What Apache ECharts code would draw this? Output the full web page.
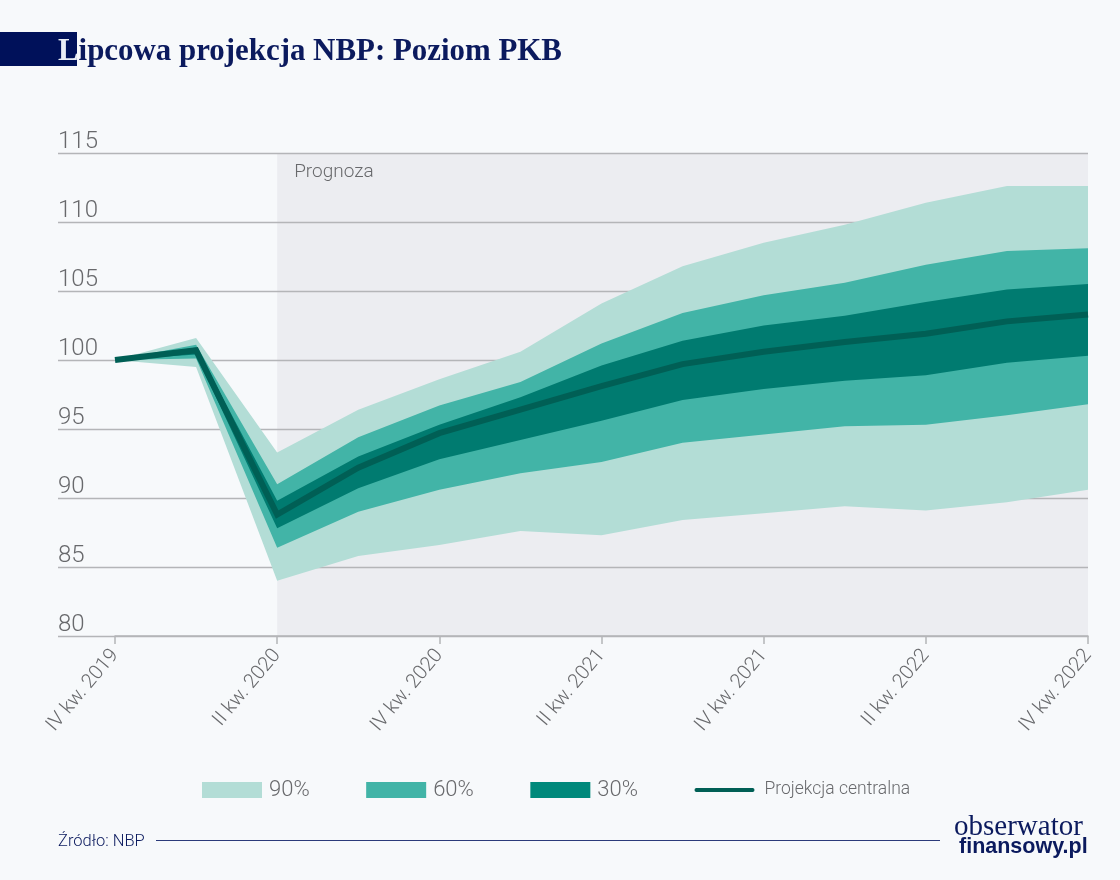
<!DOCTYPE html>
<html>
<head>
<meta charset="utf-8">
<title>Lipcowa projekcja NBP: Poziom PKB</title>
<script src="https://cdn.jsdelivr.net/npm/echarts@6/dist/echarts.min.js"></script>
<style>
html, body { margin: 0; padding: 0; background: #f7f9fb; }
#chart { width: 1120px; height: 880px; }
</style>
</head>
<body>
<div id="chart"></div>
<script>
var quarters = ['IV kw. 2019', 'I kw. 2020', 'II kw. 2020', 'III kw. 2020', 'IV kw. 2020', 'I kw. 2021', 'II kw. 2021',
    'III kw. 2021', 'IV kw. 2021', 'I kw. 2022', 'II kw. 2022', 'III kw. 2022', 'IV kw. 2022'];
var upper90 = [100, 101.6, 93.3, 96.4, 98.6, 100.6, 104.1, 106.8, 108.5, 109.8, 111.4, 112.6, 112.6];
var lower90 = [100, 99.5, 84.0, 85.8, 86.6, 87.6, 87.3, 88.4, 88.9, 89.4, 89.1, 89.7, 90.6];
var upper60 = [100, 101.1, 91.0, 94.4, 96.7, 98.4, 101.2, 103.4, 104.7, 105.6, 106.9, 107.9, 108.1];
var lower60 = [100, 100.1, 86.4, 89.0, 90.6, 91.8, 92.6, 94.0, 94.6, 95.2, 95.3, 96.0, 96.8];
var upper30 = [100, 100.9, 89.8, 93.0, 95.3, 97.3, 99.6, 101.4, 102.5, 103.2, 104.2, 105.1, 105.5];
var lower30 = [100, 100.4, 87.8, 90.7, 92.8, 94.2, 95.6, 97.1, 97.9, 98.5, 98.9, 99.8, 100.3];
var central = [100, 100.7, 88.8, 92.2, 94.7, 96.4, 98.1, 99.7, 100.6, 101.3, 101.9, 102.8, 103.3];

var font = 'Roboto';
var gray = '#68696c';
var navy = '#0b1a5e';
var gridGray = '#b4b5b8';

function band(name, color, upper, lower) {
    return {
        type: 'custom',
        name: name,
        xAxisIndex: 1,
        yAxisIndex: 1,
        itemStyle: { color: color },
        data: [0],
        silent: true,
        renderItem: function (params, api) {
            var points = [];
            upper.forEach(function (v, i) { points.push(api.coord([i, v])); });
            for (var i = lower.length - 1; i >= 0; i--) {
                points.push(api.coord([i, lower[i]]));
            }
            return { type: 'polygon', shape: { points: points }, style: { fill: color } };
        }
    };
}

var chart = echarts.init(document.getElementById('chart'));

chart.setOption({
    animation: false,
    backgroundColor: '#f7f9fb',
    title: {
        left: 58,
        top: 37,
        padding: 0,
        z: 10,
        text: '{l|L}{r|ipcowa projekcja NBP: Poziom PKB}',
        textStyle: {
            rich: {
                l: { fontFamily: 'Liberation Serif', fontWeight: 'bold', fontSize: 30.9, color: '#e9edf5' },
                r: { fontFamily: 'Liberation Serif', fontWeight: 'bold', fontSize: 30.9, color: navy }
            }
        }
    },
    legend: {
        left: 202,
        top: 779,
        padding: 0,
        itemWidth: 60,
        itemHeight: 16,
        itemGap: 56.5,
        selectedMode: false,
        formatter: function (name) {
            return name.indexOf('%') > 0 ? '{p|' + name + '}' : '{c|' + name + '}';
        },
        textStyle: {
            rich: {
                p: { fontFamily: font, fontWeight: 300, fontSize: 22, color: gray, padding: [0, 0, 0, 2] },
                c: { fontFamily: font, fontWeight: 300, fontSize: 17.5, color: gray, padding: [0, 0, 0, 5] }
            }
        },
        data: [
            { name: '90%', icon: 'rect' },
            { name: '60%', icon: 'rect' },
            { name: '30%', icon: 'rect', itemStyle: { color: '#00897b' } },
            {
                name: 'Projekcja centralna',
                icon: 'path://M2 0H60A2 2 0 0 1 60 4H2A2 2 0 0 1 2 0Z',
                itemStyle: { color: '#005f55' }
            }
        ]
    },
    grid: [
        { left: 58, right: 32, top: 153, height: 483 },
        { left: 115, right: 32, top: 153, height: 483 }
    ],
    xAxis: [
        { type: 'category', gridIndex: 0, show: false, data: quarters },
        {
            type: 'category',
            gridIndex: 1,
            boundaryGap: false,
            data: quarters,
            axisLine: { lineStyle: { color: gridGray, width: 1.5 } },
            axisTick: { interval: 1, length: 8, lineStyle: { color: gridGray, width: 1.5 } },
            axisLabel: {
                interval: 1,
                rotate: 50,
                margin: 16,
                fontFamily: font,
                fontWeight: 300,
                fontSize: 20,
                color: gray,
                showMinLabel: true,
                showMaxLabel: true
            }
        }
    ],
    yAxis: [
        {
            type: 'value',
            gridIndex: 0,
            min: 80,
            max: 115,
            interval: 5,
            axisLine: { show: false },
            axisTick: { show: false },
            splitLine: { lineStyle: { color: gridGray, width: 1.3 } },
            axisLabel: {
                inside: true,
                margin: 0,
                align: 'left',
                verticalAlign: 'bottom',
                lineHeight: 22,
                fontFamily: font,
                fontWeight: 300,
                fontSize: 24,
                color: gray
            }
        },
        { type: 'value', gridIndex: 1, min: 80, max: 115, interval: 5, show: false }
    ],
    series: [
        {
            type: 'line',
            name: 'shade',
            xAxisIndex: 1,
            yAxisIndex: 1,
            data: [],
            silent: true,
            markArea: {
                silent: true,
                z: -1,
                itemStyle: { color: '#ecedf1' },
                label: {
                    show: true,
                    position: 'insideTopLeft',
                    distance: 0,
                    offset: [17, 10],
                    fontFamily: font,
                    fontWeight: 300,
                    fontSize: 19,
                    color: gray
                },
                data: [[
                    { name: 'Prognoza', xAxis: 'II kw. 2020', yAxis: 115 },
                    { xAxis: 'IV kw. 2022', yAxis: 80 }
                ]]
            }
        },
        band('90%', '#b3ddd6', upper90, lower90),
        band('60%', '#42b4a7', upper60, lower60),
        band('30%', '#007b70', upper30, lower30),
        {
            type: 'line',
            name: 'Projekcja centralna',
            xAxisIndex: 1,
            yAxisIndex: 1,
            data: central,
            symbol: 'none',
            silent: true,
            itemStyle: { color: '#005f55' },
            lineStyle: { color: '#005f55', width: 6, join: 'miter' },
            z: 5
        }
    ],
    graphic: [
        { type: 'rect', left: 0, top: 32, z: -2, shape: { width: 77, height: 34 }, style: { fill: '#00115a' } },
        {
            type: 'text',
            left: 58,
            top: 833,
            style: { text: 'Źródło: NBP', fontFamily: font, fontWeight: 300, fontSize: 16.5, fill: navy }
        },
        { type: 'rect', left: 156, top: 840, shape: { width: 784, height: 1 }, style: { fill: '#2b3a7a' } },
        {
            type: 'text',
            left: 954,
            top: 813,
            style: { text: 'obserwator', fontFamily: 'Liberation Serif', fontSize: 29, fill: navy }
        },
        {
            type: 'text',
            left: 959,
            top: 836,
            style: { text: 'finansowy.pl', fontFamily: 'Liberation Sans', fontWeight: 'bold', fontSize: 21.5, fill: navy }
        }
    ]
});
</script>
</body>
</html>
